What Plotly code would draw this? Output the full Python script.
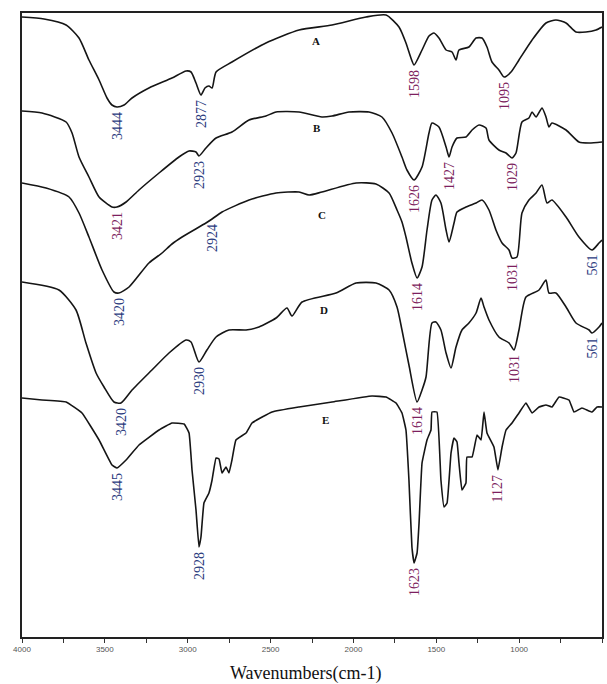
import plotly.graph_objects as go

# FTIR spectra (wavenumber cm-1, transmittance in arbitrary stacked units)
SPEC_A = [(4000, 620), (3867, 618), (3734, 612), (3656, 599), (3596, 577), (3535, 557), (3487, 539),
          (3457, 532), (3427, 530), (3384, 532), (3336, 539), (3234, 549), (3095, 559), (3010, 566),
          (2980, 565), (2950, 554), (2920, 542), (2896, 549), (2872, 551), (2853, 549), (2829, 565),
          (2733, 575), (2528, 594), (2328, 607), (2129, 612), (1924, 620), (1803, 622), (1725, 610),
          (1683, 594), (1653, 579), (1634, 572), (1586, 587), (1544, 601), (1514, 604), (1484, 599),
          (1441, 587), (1405, 585), (1381, 577), (1363, 587), (1303, 590), (1260, 599), (1224, 599),
          (1194, 590), (1164, 575), (1122, 567), (1091, 560), (1049, 565), (1001, 577), (922, 597),
          (838, 614), (778, 617), (717, 614), (657, 605), (597, 605), (536, 607), (500, 610)]

SPEC_B = [(4000, 526), (3879, 524), (3734, 515), (3698, 504), (3656, 480), (3596, 460), (3535, 440),
          (3457, 430), (3427, 430), (3372, 435), (3294, 447), (3173, 464), (3053, 480), (2992, 486),
          (2950, 485), (2932, 481), (2890, 489), (2829, 499), (2733, 505), (2630, 517), (2528, 521),
          (2467, 525), (2328, 525), (2190, 520), (2129, 521), (2027, 525), (1906, 525), (1828, 520),
          (1767, 504), (1707, 480), (1677, 467), (1634, 457), (1586, 470), (1544, 504), (1526, 514),
          (1484, 510), (1441, 490), (1423, 480), (1405, 490), (1375, 499), (1321, 500), (1284, 507),
          (1242, 512), (1200, 509), (1182, 497), (1122, 487), (1079, 484), (1043, 479), (1019, 484),
          (983, 515), (941, 519), (922, 525), (898, 520), (862, 529), (838, 520), (820, 510),
          (802, 514), (717, 507), (639, 495), (578, 494), (500, 495)]

SPEC_C = [(4000, 454), (3855, 449), (3716, 440), (3656, 424), (3596, 400), (3517, 367), (3445, 345),
          (3415, 344), (3354, 350), (3234, 374), (3155, 384), (3095, 393), (3034, 400), (2890, 414),
          (2853, 418), (2793, 425), (2630, 437), (2467, 444), (2328, 445), (2268, 442), (2190, 445),
          (1984, 454), (1864, 453), (1785, 444), (1737, 427), (1707, 415), (1683, 400), (1647, 374),
          (1616, 359), (1586, 370), (1556, 407), (1526, 437), (1502, 442), (1472, 434), (1441, 407),
          (1423, 395), (1393, 414), (1375, 425), (1321, 430), (1260, 434), (1224, 437), (1182, 427),
          (1140, 407), (1103, 394), (1061, 387), (1043, 379), (1013, 380), (983, 424), (941, 437),
          (898, 444), (862, 452), (832, 434), (802, 437), (717, 420), (639, 400), (560, 387),
          (518, 394), (500, 397)]

SPEC_D = [(4000, 355), (3777, 347), (3674, 327), (3614, 294), (3553, 264), (3505, 250), (3445, 235),
          (3403, 234), (3336, 247), (3216, 267), (3113, 284), (3010, 297), (2980, 295), (2932, 275),
          (2884, 287), (2829, 300), (2751, 307), (2648, 307), (2570, 310), (2467, 319), (2401, 329),
          (2371, 321), (2310, 335), (2105, 344), (1984, 354), (1864, 354), (1785, 347), (1737, 330),
          (1707, 307), (1665, 272), (1616, 235), (1586, 247), (1562, 260), (1526, 314), (1502, 315),
          (1472, 307), (1441, 284), (1411, 269), (1381, 290), (1345, 307), (1303, 314), (1260, 324),
          (1230, 339), (1212, 330), (1182, 317), (1122, 300), (1061, 294), (1031, 287), (1001, 307),
          (959, 340), (880, 347), (838, 357), (820, 344), (778, 344), (717, 330), (657, 314),
          (578, 307), (560, 304), (518, 310), (500, 314)]

SPEC_E = [(4000, 239), (3879, 237), (3734, 235), (3638, 224), (3535, 197), (3457, 172), (3427, 169),
          (3372, 177), (3294, 192), (3173, 207), (3095, 214), (3022, 213), (2992, 204), (2974, 167),
          (2950, 127), (2932, 90), (2920, 100), (2902, 134), (2872, 144), (2853, 157), (2829, 179),
          (2811, 178), (2793, 164), (2769, 170), (2751, 164), (2733, 177), (2709, 197), (2648, 204),
          (2612, 214), (2491, 225), (2328, 230), (2129, 235), (1888, 241), (1803, 240), (1743, 234),
          (1707, 224), (1683, 207), (1665, 157), (1647, 90), (1634, 74), (1616, 84), (1604, 114),
          (1586, 174), (1556, 197), (1532, 207), (1526, 225), (1496, 225), (1472, 157), (1453, 130),
          (1435, 134), (1411, 184), (1393, 199), (1375, 195), (1363, 174), (1345, 147), (1321, 154),
          (1315, 180), (1284, 180), (1254, 202), (1230, 197), (1212, 225), (1194, 204), (1152, 190),
          (1128, 167), (1103, 190), (1079, 207), (1043, 214), (1001, 224), (959, 234), (922, 224),
          (880, 230), (838, 232), (802, 230), (759, 240), (699, 237), (669, 225), (621, 229),
          (560, 225), (530, 230), (500, 230)]

SPECTRA = {"A": SPEC_A, "B": SPEC_B, "C": SPEC_C, "D": SPEC_D, "E": SPEC_E}
SMOOTHING = {"A": 0.6, "B": 0.6, "C": 0.6, "D": 0.6, "E": 0.3}

# curve letter labels: (name, wavenumber, level)
CURVE_LABELS = [("A", 2226, 596), ("B", 2220, 509), ("C", 2190, 422), ("D", 2178, 327), ("E", 2166, 217)]

# peak annotations: (curve, wavenumber of minimum, text, colour group)
PEAKS = [
    ("A", 3427, "3444", "b"), ("A", 2920, "2877", "b"), ("A", 1634, "1598", "m"), ("A", 1091, "1095", "m"),
    ("B", 3427, "3421", "m"), ("B", 2932, "2923", "b"), ("B", 1634, "1626", "m"), ("B", 1423, "1427", "m"),
    ("B", 1043, "1029", "m"),
    ("C", 3415, "3420", "b"), ("C", 2853, "2924", "b"), ("C", 1616, "1614", "m"), ("C", 1043, "1031", "m"),
    ("C", 560, "561", "b"),
    ("D", 3403, "3420", "b"), ("D", 2932, "2930", "b"), ("D", 1616, "1614", "m"), ("D", 1031, "1031", "m"),
    ("D", 560, "561", "b"),
    ("E", 3427, "3445", "b"), ("E", 2932, "2928", "b"), ("E", 1634, "1623", "m"), ("E", 1128, "1127", "m"),
]
PEAK_COLORS = {"b": "#2b3b7e", "m": "#7d1f5e"}

X_TICKS = [4000, 3500, 3000, 2500, 2000, 1500, 1000, 500]

fig = go.Figure()
for name, pts in SPECTRA.items():
    wn = [p[0] for p in pts]
    t = [p[1] for p in pts]
    fig.add_trace(go.Scatter(x=wn, y=t, mode="lines", name=name,
                             line=dict(color="#151515", width=1.6, shape="spline", smoothing=SMOOTHING[name]),
                             showlegend=False))

annotations = []
for name, wn, lvl in CURVE_LABELS:
    annotations.append(dict(x=wn, y=lvl, text="<b>%s</b>" % name, showarrow=False,
                            font=dict(family="Liberation Serif", size=11, color="#111")))

for name, wn, txt, c in PEAKS:
    lookup = dict(SPECTRA[name])
    annotations.append(dict(x=wn, y=lookup[wn], text=txt, showarrow=False, textangle=-90,
                            xanchor="center", yanchor="top", yshift=-3,
                            font=dict(family="Liberation Serif", size=14, color=PEAK_COLORS[c])))

annotations.append(dict(x=0.49, y=0, xref="paper", yref="paper", yanchor="middle", yshift=-36,
                        text="Wavenumbers(cm-1)", showarrow=False,
                        font=dict(family="Liberation Serif", size=18, color="#111")))

fig.update_layout(
    width=607, height=684,
    margin=dict(l=22, r=3, t=13, b=47),
    paper_bgcolor="white", plot_bgcolor="white",
    annotations=annotations,
    xaxis=dict(range=[4000, 500], tickvals=X_TICKS, ticktext=[str(v) for v in X_TICKS],
               ticks="outside", ticklen=4, tickwidth=1, tickcolor="#333",
               minor=dict(ticks="outside", dtick=250, tick0=500, ticklen=4, tickcolor="#333", showgrid=False),
               showline=True, linecolor="#222", linewidth=1.5, mirror=True, showgrid=False, zeroline=False,
               tickfont=dict(family="Arial", size=8, color="#555")),
    yaxis=dict(range=[0, 624], showticklabels=False, ticks="", showline=True, linecolor="#222",
               linewidth=1.5, mirror=True, showgrid=False, zeroline=False),
)

fig.write_html("out.html")
